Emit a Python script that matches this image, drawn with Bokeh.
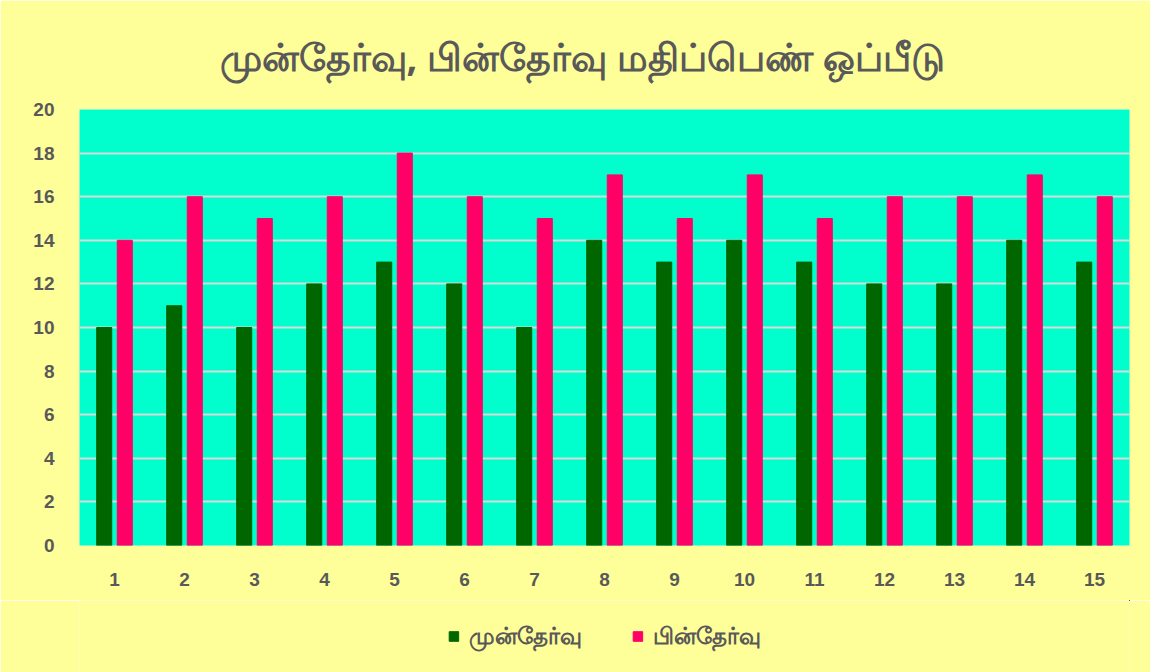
from bokeh.plotting import figure
from bokeh.layouts import column
from bokeh.models import FactorRange, Range1d, Legend, LegendItem, FixedTicker, ColumnDataSource
from bokeh.transform import dodge
from bokeh.embed import file_html
from bokeh.resources import INLINE

categories = [str(i) for i in range(1, 16)]
pre_test = [10, 11, 10, 12, 13, 12, 10, 14, 13, 14, 13, 12, 12, 14, 13]
post_test = [14, 16, 15, 16, 18, 16, 15, 17, 15, 17, 15, 16, 16, 17, 16]
series_names = ["முன்தேர்வு", "பின்தேர்வு"]
title_text = "முன்தேர்வு, பின்தேர்வு மதிப்பெண் ஒப்பீடு"
y_ticks = list(range(0, 21, 2))

GREEN = "#006600"
PINK = "#FF0066"
BG = "#FFFF99"

src = ColumnDataSource(dict(cat=categories, pre=pre_test, post=post_test))

p = figure(x_range=FactorRange(*categories, range_padding=0), y_range=Range1d(0, 20),
           frame_width=1050, frame_height=436, output_backend="svg", toolbar_location=None,
           min_border_left=79, min_border_right=21, min_border_top=109, min_border_bottom=55)

p.background_fill_color = "#00FFCC"
p.border_fill_color = BG
p.outline_line_color = None

p.title.text = title_text
p.title.align = "left"
p.title.offset = 140
p.title.text_font = "Noto Sans"
p.title.text_font_size = "38px"
p.title.text_font_style = "bold"
p.title.text_color = "#595959"
p.title.standoff = 55

p.vbar(x=dodge("cat", -0.147, range=p.x_range), top="pre", width=0.215, source=src,
       fill_color=GREEN, line_color=GREEN)
p.vbar(x=dodge("cat", 0.147, range=p.x_range), top="post", width=0.215, source=src,
       fill_color=PINK, line_color=PINK)

p.xgrid.grid_line_color = None
p.ygrid.ticker = FixedTicker(ticks=y_ticks)
p.ygrid.grid_line_color = "#D9D9D9"
p.ygrid.grid_line_width = 2
p.yaxis.ticker = FixedTicker(ticks=y_ticks)

for ax in (p.xaxis[0], p.yaxis[0]):
    ax.axis_line_color = None
    ax.major_tick_line_color = None
    ax.minor_tick_line_color = None
    ax.major_label_text_font = "Liberation Sans"
    ax.major_label_text_font_style = "bold"
    ax.major_label_text_font_size = "19px"
    ax.major_label_text_color = "#595959"
p.yaxis.major_label_standoff = 19
p.xaxis.major_label_standoff = 21

# legend strip below the chart (its bars lie outside its visible ranges)
lf = figure(width=1150, height=72, x_range=Range1d(-100, -99), y_range=Range1d(-100, -99),
            x_axis_type=None, y_axis_type=None, output_backend="svg", toolbar_location=None,
            min_border_left=0, min_border_right=0, min_border_top=0, min_border_bottom=0)
lf.background_fill_color = BG
lf.border_fill_color = BG
lf.outline_line_color = None
lf.grid.visible = False
idx = list(range(len(categories)))
g = lf.vbar(x=idx, top=pre_test, width=0.5, fill_color=GREEN, line_color=GREEN)
r = lf.vbar(x=idx, top=post_test, width=0.5, fill_color=PINK, line_color=PINK)

legend = Legend(items=[LegendItem(label=series_names[0], renderers=[g]),
                       LegendItem(label=series_names[1], renderers=[r])],
                orientation="horizontal", location="center")
legend.background_fill_alpha = 0
legend.border_line_color = None
legend.label_text_font = "Noto Sans"
legend.label_text_font_size = "23px"
legend.label_text_font_style = "bold"
legend.label_text_color = "#595959"
legend.glyph_width = 12
legend.glyph_height = 12
legend.spacing = 50
legend.label_standoff = 9
legend.margin = 0
legend.padding = 0
lf.add_layout(legend, "center")

layout = column(p, lf, spacing=0)
open("out.html", "w").write(file_html(layout, INLINE))
